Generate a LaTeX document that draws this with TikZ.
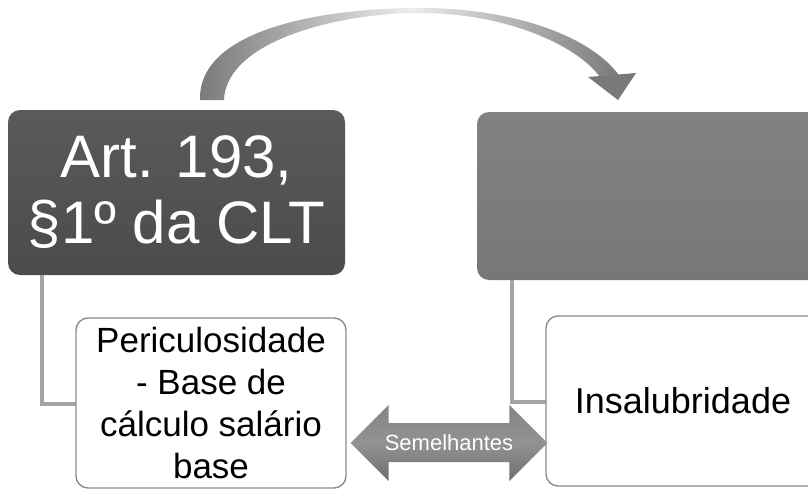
\documentclass[tikz,border=0pt]{standalone}
\usepackage{fontspec}
\setmainfont{Liberation Sans}
\usetikzlibrary{calc}
\definecolor{darkbox}{HTML}{4B4B4E}
\definecolor{darkboxtop}{HTML}{5A5A5D}
\definecolor{midbox}{HTML}{77777A}
\definecolor{midboxtop}{HTML}{828285}
\definecolor{framegray}{HTML}{8C8C8E}
\definecolor{linegray}{HTML}{A4A4A6}
\definecolor{arrowgray}{HTML}{6E6E71}
\definecolor{curvegray}{HTML}{79797C}
\tikzset{
  x=1pt, y=-1pt,
  headbox/.style={rectangle, rounded corners=12pt, inner sep=0pt, text=white, align=center},
  subbox/.style={rectangle, rounded corners=12pt, draw=framegray, line width=1.4pt, fill=white, inner sep=0pt, align=center},
  linkline/.style={draw=linegray, line width=3.5pt},
}
\begin{document}
\begin{tikzpicture}
\useasboundingbox (0,0) rectangle (808,490);
% head boxes
\node[headbox, top color=darkboxtop, bottom color=darkbox, minimum width=337pt, minimum height=165pt,
  font=\fontsize{60}{66}\selectfont]
  (art) at (176.5,192.5) {Art. 193,\\§1º da CLT};
\node[headbox, top color=midboxtop, bottom color=midbox, minimum width=343pt, minimum height=168pt]
  (blank) at (648.5,196) {};
% connectors
\coordinate (c1) at (42,275);
\coordinate (c2) at (512,280);
\coordinate (pw) at (76,404);
\coordinate (iw) at (546,402);
\draw[linkline] (c1) |- (pw);
\draw[linkline] (c2) |- (iw);
% sub boxes
\node[subbox, minimum width=270pt, minimum height=170pt, font=\fontsize{35}{42}\selectfont] (peri) at (211,403)
  {Periculosidade\\- Base de\\cálculo salário\\base};
\node[subbox, minimum width=274pt, minimum height=170pt, font=\fontsize{36}{43}\selectfont] (insa) at (683,401)
  {Insalubridade};
% double arrow
\coordinate (tl) at ($(peri.east)+(4,40)$);
\coordinate (tr) at ($(insa.west)+(2,42)$);
\shade[top color=arrowgray!85, bottom color=arrowgray, middle color=arrowgray!75]
  (tl) -- ++(38,-38) -- ++(0,18) -- ($(tr)+(-38,-20)$) -- ++(0,-18) -- (tr)
  -- ++(-38,38) -- ++(0,-19) -- ($(tl)+(38,19)$) -- ++(0,19) -- cycle;
\node[text=white, inner sep=0pt, font=\fontsize{22}{25}\selectfont] (sem) at ($(tl)!0.5!(tr)$) {Semelhantes};
% curved arrow
\coordinate (cs) at (212,100);
\coordinate (ce) at (618,100);
\shade[left color=curvegray, right color=curvegray, middle color=gray!15]
  (200,100) .. controls (198,30) and (320,8) .. (420,8)
  .. controls (520,8) and (598,40) .. (622,80)
  -- (602,80)
  .. controls (582,48) and (510,13) .. (420,13)
  .. controls (335,13) and (226,42) .. (224,100) -- cycle;
\fill[curvegray] (588,77) -- (636,73) -- (ce) -- cycle;
\end{tikzpicture}
\end{document}
